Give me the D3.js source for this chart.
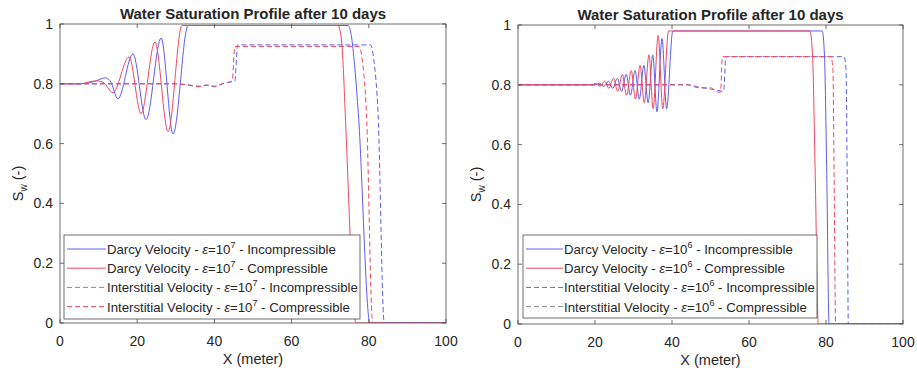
<!DOCTYPE html>
<html>
<head>
<meta charset="utf-8">
<script src="https://cdn.jsdelivr.net/npm/d3@7/dist/d3.min.js"></script>
<style>
  body { margin: 0; background: #fff; }
  text { font-family: "Liberation Sans", Arial, sans-serif; fill: #262626; }
</style>
</head>
<body>
<svg id="chart" width="917" height="371"></svg>
<script>
// tick labels
const xTicks = [0, 20, 40, 60, 80, 100]
const yTicks = [0, 0.2, 0.4, 0.6, 0.8, 1]
const title = 'Water Saturation Profile after 10 days'

// left panel (eps = 10^7), [x (m), Sw]
const leftDarcyInc = [[0, 0.8], [5, 0.8], [9, 0.808], [11.7, 0.82], [13, 0.81], [15, 0.75], [18.9, 0.9], [22.3, 0.68], [26.2, 0.953], [29.3, 0.632], [33.2, 0.995], [35, 0.995], [74.6, 0.995], [75.6, 0.95], [76.4, 0.85], [77.3, 0.7], [80.3, 0], [100, 0]]
const leftDarcyComp = [[0, 0.8], [5, 0.8], [9.5, 0.81], [11.2, 0.805], [13.7, 0.77], [17.9, 0.89], [21, 0.7], [24.6, 0.94], [28, 0.64], [31.6, 0.995], [33, 0.995], [72, 0.995], [72.9, 0.95], [73.4, 0.85], [73.9, 0.7], [76.7, 0], [100, 0]]
const leftInterInc = [[0, 0.8], [30, 0.8], [33, 0.797], [36, 0.792], [38, 0.796], [40, 0.79], [42, 0.8], [45.3, 0.81], [46, 0.93], [47, 0.93], [80.5, 0.93], [81.3, 0.88], [82.4, 0.7], [84, 0], [100, 0]]
const leftInterComp = [[0, 0.8], [30, 0.8], [33, 0.796], [36, 0.79], [38, 0.795], [40, 0.792], [42, 0.8], [44.6, 0.81], [45.3, 0.925], [46, 0.925], [77.5, 0.925], [78.3, 0.88], [79.4, 0.7], [81, 0], [100, 0]]

// right panel (eps = 10^6)
const rightDarcyInc = [[0, 0.8], [20, 0.8], [21.2, 0.805], [22.3, 0.795], [23.5, 0.812], [24.6, 0.788], [25.8, 0.822], [26.9, 0.778], [28.1, 0.835], [29.2, 0.765], [30.4, 0.848], [31.5, 0.752], [32.7, 0.865], [33.8, 0.74], [35, 0.9], [36.1, 0.71], [37.4, 0.955], [38.6, 0.72], [40.2, 0.98], [41, 0.98], [79, 0.98], [79.6, 0.9], [80.2, 0.5], [80.8, 0], [100, 0]]
const rightDarcyComp = [[0, 0.8], [19, 0.8], [20.2, 0.805], [21.3, 0.795], [22.5, 0.812], [23.6, 0.788], [24.8, 0.822], [25.9, 0.778], [27.1, 0.835], [28.2, 0.765], [29.4, 0.848], [30.5, 0.752], [31.7, 0.865], [32.8, 0.74], [34, 0.9], [35.1, 0.72], [36.4, 0.965], [37.6, 0.72], [39.1, 0.98], [40, 0.98], [75.8, 0.98], [76.5, 0.9], [77.2, 0.5], [78, 0], [100, 0]]
const rightInterInc = [[0, 0.8], [44, 0.8], [47, 0.792], [50, 0.786], [52.5, 0.78], [53.4, 0.778], [54, 0.894], [55, 0.894], [84.7, 0.894], [85.2, 0.85], [85.5, 0.5], [85.8, 0], [100, 0]]
const rightInterComp = [[0, 0.8], [44, 0.8], [47, 0.79], [50, 0.79], [51.8, 0.776], [52.6, 0.775], [53.1, 0.894], [54, 0.894], [81.3, 0.894], [81.8, 0.85], [82.1, 0.5], [82.5, 0], [100, 0]]

const seriesNames = ['Darcy Velocity', 'Darcy Velocity', 'Interstitial Velocity', 'Interstitial Velocity']
const seriesKinds = ['Incompressible', 'Compressible', 'Incompressible', 'Compressible']

const BLUE = '#5c5cf2'
const RED = '#f0485e'
const GRAY = '#8a8a8a'

const panels = [
  {
    left: 60, right: 446, top: 24, bottom: 323,
    exp: 7,
    data: [leftDarcyInc, leftDarcyComp, leftInterInc, leftInterComp],
    colors: [BLUE, RED, BLUE, RED],
    legendColors: [BLUE, RED, GRAY, RED],
    legend: { x: 64, y: 235, w: 296, h: 84, sample: 39 }
  },
  {
    left: 518, right: 903, top: 25, bottom: 324,
    exp: 6,
    data: [rightDarcyInc, rightDarcyComp, rightInterInc, rightInterComp],
    colors: [BLUE, RED, BLUE, RED],
    legendColors: [BLUE, RED, BLUE, GRAY],
    legend: { x: 523, y: 235, w: 294, h: 83, sample: 37 }
  }
]

const dashes = [null, null, '5,3', '5,3']
const svg = d3.select('#chart')

panels.forEach(function (p, pi) {
  const x = d3.scaleLinear().domain([0, 100]).range([p.left, p.right])
  const y = d3.scaleLinear().domain([0, 1]).range([p.bottom, p.top])
  const g = svg.append('g')

  // clip
  svg.append('clipPath').attr('id', 'clip' + pi)
    .append('rect')
    .attr('x', p.left).attr('y', p.top - 1)
    .attr('width', p.right - p.left).attr('height', p.bottom - p.top + 1)

  // curves
  const line = d3.line()
    .x(d => x(d[0]))
    .y(d => y(d[1]))
    .curve(d3.curveMonotoneX)
  p.data.forEach(function (s, i) {
    g.append('path')
      .attr('d', line(s))
      .attr('fill', 'none')
      .attr('stroke', p.colors[i])
      .attr('stroke-width', 1)
      .attr('stroke-dasharray', dashes[i])
      .attr('clip-path', 'url(#clip' + pi + ')')
  })

  // box
  g.append('rect')
    .attr('x', p.left).attr('y', p.top)
    .attr('width', p.right - p.left).attr('height', p.bottom - p.top)
    .attr('fill', 'none').attr('stroke', '#4a4a4a').attr('stroke-width', 0.8)

  // ticks (inside, all four sides)
  xTicks.forEach(function (t) {
    g.append('line').attr('x1', x(t)).attr('x2', x(t)).attr('y1', p.bottom).attr('y2', p.bottom - 4)
      .attr('stroke', '#4a4a4a').attr('stroke-width', 0.8)
    g.append('line').attr('x1', x(t)).attr('x2', x(t)).attr('y1', p.top).attr('y2', p.top + 4)
      .attr('stroke', '#4a4a4a').attr('stroke-width', 0.8)
    g.append('text').attr('x', x(t)).attr('y', p.bottom + 23)
      .attr('text-anchor', 'middle').attr('font-size', 14).text(t)
  })
  yTicks.forEach(function (t) {
    g.append('line').attr('x1', p.left).attr('x2', p.left + 4).attr('y1', y(t)).attr('y2', y(t))
      .attr('stroke', '#4a4a4a').attr('stroke-width', 0.8)
    g.append('line').attr('x1', p.right).attr('x2', p.right - 4).attr('y1', y(t)).attr('y2', y(t))
      .attr('stroke', '#4a4a4a').attr('stroke-width', 0.8)
    g.append('text').attr('x', p.left - 7).attr('y', y(t) + 5)
      .attr('text-anchor', 'end').attr('font-size', 14).text(t)
  })

  const cx = (p.left + p.right) / 2
  const cy = (p.top + p.bottom) / 2

  // title
  g.append('text').attr('x', cx).attr('y', p.top - 5)
    .attr('text-anchor', 'middle').attr('font-size', 15).attr('font-weight', 'bold')
    .attr('fill', '#000').text(title)

  // axis labels
  g.append('text').attr('x', cx).attr('y', p.bottom + 41)
    .attr('text-anchor', 'middle').attr('font-size', 14.5).text('X (meter)')
  const yl = g.append('text')
    .attr('transform', 'translate(' + (p.left - 37) + ',' + (cy + 10) + ') rotate(-90)')
    .attr('text-anchor', 'middle').attr('font-size', 14.5)
  yl.append('tspan').text('S')
  yl.append('tspan').attr('font-size', 10).attr('dy', 4).text('w')
  yl.append('tspan').attr('dy', -4).text(' (-)')

  // legend
  const L = p.legend
  g.append('rect').attr('x', L.x).attr('y', L.y).attr('width', L.w).attr('height', L.h)
    .attr('fill', '#fff').attr('stroke', '#4a4a4a').attr('stroke-width', 0.8)
  seriesNames.forEach(function (name, i) {
    const ry = L.y + 14 + i * 19.2
    g.append('line').attr('x1', L.x + 3).attr('x2', L.x + 3 + L.sample)
      .attr('y1', ry).attr('y2', ry)
      .attr('stroke', p.legendColors[i]).attr('stroke-width', 1)
      .attr('stroke-dasharray', dashes[i])
    const t = g.append('text').attr('x', L.x + L.sample + 4).attr('y', ry + 5).attr('font-size', 13.2)
    t.append('tspan').text(name + ' - ')
    t.append('tspan').attr('font-style', 'italic').text('\u03b5')
    t.append('tspan').text('=10')
    t.append('tspan').attr('font-size', 9).attr('dy', -6).text(p.exp)
    t.append('tspan').attr('dy', 6).text(' - ' + seriesKinds[i])
  })
})
</script>
</body>
</html>
